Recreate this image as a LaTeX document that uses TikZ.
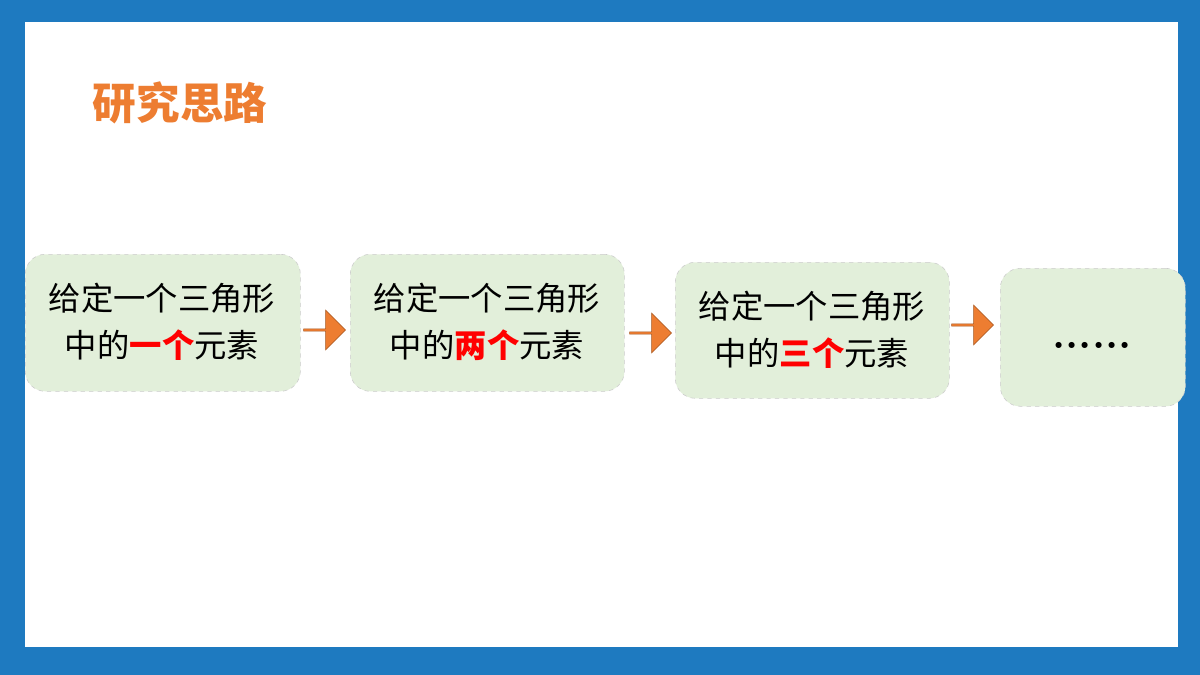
\documentclass[tikz,border=0pt]{standalone}
\usepackage{fontspec}
\newfontfamily\cjk{Noto Sans CJK SC}
\usetikzlibrary{shapes.arrows}
\definecolor{bg}{HTML}{1E7AC0}
\definecolor{org}{HTML}{ED7D31}
\definecolor{boxf}{HTML}{E2EFDA}
\tikzset{
 x=0.025cm,y=-0.025cm,
 stepbox/.style={draw=black!20,dashed,fill=boxf,rounded corners=0.5cm,anchor=north west},
 txt/.style={font=\cjk\fontsize{23}{33}\selectfont,align=center},
 arr/.style={single arrow,draw=org!70!black,fill=org,minimum height=1.05cm,minimum width=1cm,single arrow head extend=0.12cm,inner sep=0pt}
}
\newcommand{\rd}[1]{\textcolor{red}{\bfseries #1}}
\begin{document}
\begin{tikzpicture}
\fill[bg] (0,0) rectangle (1200,675);
\fill[white] (25,22) rectangle (1178,647);
\useasboundingbox (0,0) rectangle (1200,675);
\node[font=\cjk\bfseries\fontsize{31}{36}\selectfont,text=org,anchor=west] (title) at (88,103) {研究思路};
\node[stepbox,minimum width=6.875cm,minimum height=3.425cm] (b1) at (25,254) {};
\node[stepbox,minimum width=6.85cm,minimum height=3.425cm] (b2) at (350,254) {};
\node[stepbox,minimum width=6.85cm,minimum height=3.4cm] (b3) at (675,262) {};
\node[stepbox,minimum width=4.625cm,minimum height=3.45cm] (b4) at (1000,268) {};
\node[txt] (t1) at (162,322) {给定一个三角形\\中的\rd{一个}元素};
\node[txt] (t2) at (487,322) {给定一个三角形\\中的\rd{两个}元素};
\node[txt] (t3) at (812,330) {给定一个三角形\\中的\rd{三个}元素};
\node[font=\bfseries\fontsize{30}{36}\selectfont] (t4) at (1092,345) {......};
\node[arr] (a1) at (324,330) {};
\node[arr] (a2) at (650,333) {};
\node[arr] (a3) at (972,325) {};
\end{tikzpicture}
\end{document}
